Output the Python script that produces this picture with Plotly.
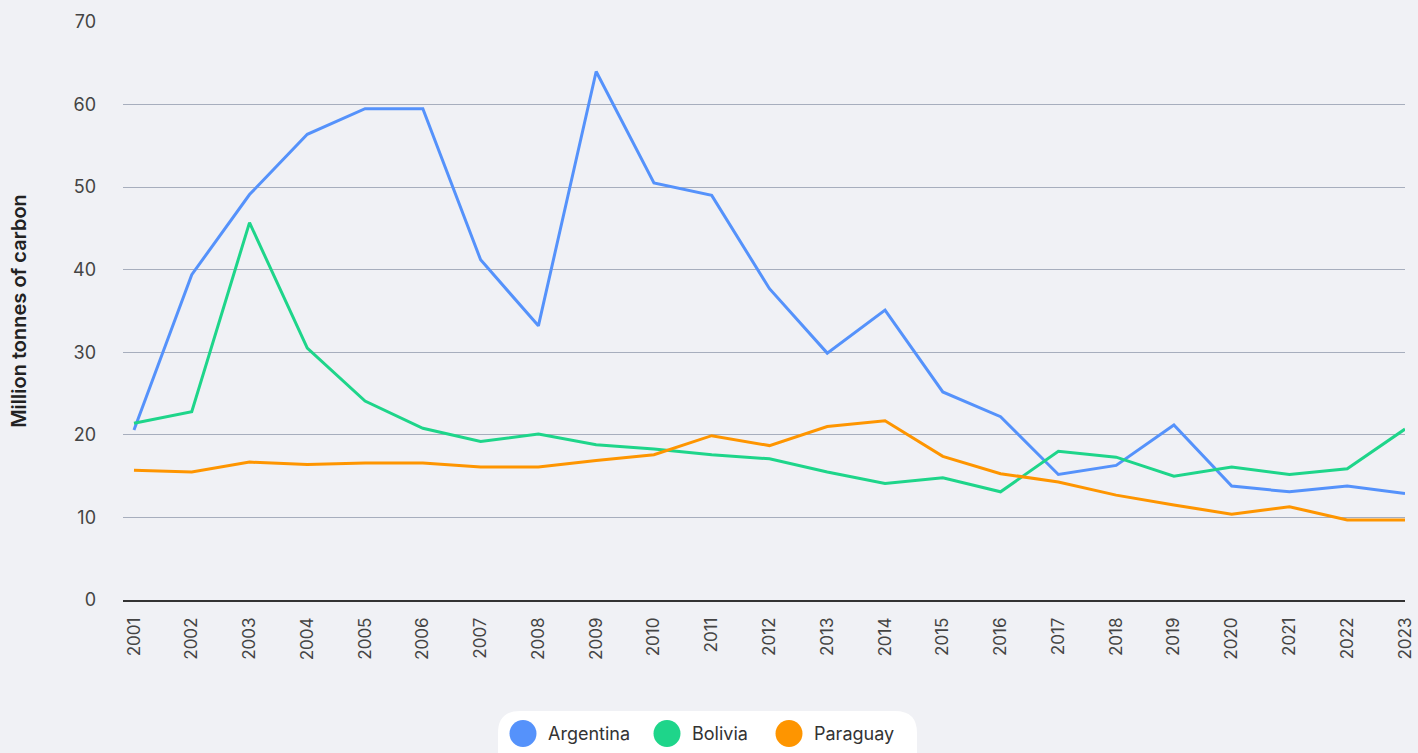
import plotly.graph_objects as go

years = list(range(2001, 2024))

argentina = [20.6, 39.4, 49.1, 56.4, 59.5, 59.5, 41.2, 33.2, 64.0, 50.5, 49.0, 37.7,
             29.9, 35.1, 25.2, 22.2, 15.2, 16.3, 21.2, 13.8, 13.1, 13.8, 12.9]
bolivia = [21.4, 22.8, 45.7, 30.5, 24.1, 20.8, 19.2, 20.1, 18.8, 18.3, 17.6, 17.1,
           15.5, 14.1, 14.8, 13.1, 18.0, 17.3, 15.0, 16.1, 15.2, 15.9, 20.7]
paraguay = [15.7, 15.5, 16.7, 16.4, 16.6, 16.6, 16.1, 16.1, 16.9, 17.6, 19.9, 18.7,
            21.0, 21.7, 17.4, 15.3, 14.3, 12.7, 11.5, 10.4, 11.3, 9.7, 9.7]

series_names = ["Argentina", "Bolivia", "Paraguay"]
series_values = [argentina, bolivia, paraguay]
series_colors = ["#5592fb", "#1ed58a", "#fe9500"]

y_ticks = [0, 10, 20, 30, 40, 50, 60, 70]

BG = "#f0f1f5"
FONT = "Inter, Liberation Sans, Arial, sans-serif"

W, H = 1418, 753
ML, MR, MT, MB = 123, 13, 22, 153
PL, PR, PT, PB = ML, W - MR, MT, H - MB


def px_x(px):
    return (px - PL) / (PR - PL)


def px_y(py):
    return (PB - py) / (PB - PT)


fig = go.Figure()

for name, values, color in zip(series_names, series_values, series_colors):
    fig.add_trace(go.Scatter(
        x=years, y=values, mode="lines", name=name,
        line=dict(color=color, width=3),
        showlegend=False,
    ))

# legend: white pill with round colour dots and names
x0, x1, y0, y1 = 498, 917, 711, 775
r = 22
path = (
    f"M {px_x(x0 + r)} {px_y(y0)} "
    f"L {px_x(x1 - r)} {px_y(y0)} "
    f"Q {px_x(x1)} {px_y(y0)} {px_x(x1)} {px_y(y0 + r)} "
    f"L {px_x(x1)} {px_y(y1)} "
    f"L {px_x(x0)} {px_y(y1)} "
    f"L {px_x(x0)} {px_y(y0 + r)} "
    f"Q {px_x(x0)} {px_y(y0)} {px_x(x0 + r)} {px_y(y0)} Z"
)
fig.add_shape(type="path", path=path, xref="paper", yref="paper",
              fillcolor="white", line=dict(width=0), layer="below")

dot_x = [523, 667, 789]
legend_y = 733.5
for name, color, cx in zip(series_names, series_colors, dot_x):
    fig.add_shape(
        type="circle", xref="paper", yref="paper",
        xsizemode="pixel", ysizemode="pixel",
        xanchor=px_x(cx), yanchor=px_y(legend_y),
        x0=-13.5, x1=13.5, y0=-13.5, y1=13.5,
        fillcolor=color, line=dict(width=0), layer="above",
    )
    fig.add_annotation(
        x=px_x(cx + 23), y=px_y(legend_y), xref="paper", yref="paper",
        text=name, showarrow=False, xanchor="left", yanchor="middle",
        font=dict(family=FONT, size=18, color="#333333"),
    )

fig.update_layout(
    width=W, height=H,
    margin=dict(l=ML, r=MR, t=MT, b=MB, autoexpand=False),
    paper_bgcolor=BG, plot_bgcolor=BG,
    font=dict(family=FONT, color="#444444", size=17),
    showlegend=False,
    xaxis=dict(
        range=[2000.81, 2023], tickmode="array", tickvals=years,
        ticktext=[str(y) for y in years], tickangle=-90,
        showgrid=False, zeroline=False, automargin=False,
        showline=True, linecolor="#333333", linewidth=1.5,
        ticks="", ticklabelstandoff=9,
        tickfont=dict(family=FONT, size=17, color="#444444"),
    ),
    yaxis=dict(
        range=[0, 70], tickmode="array", tickvals=y_ticks,
        showgrid=True, gridcolor="#a7aebd", gridwidth=1,
        zeroline=False, showline=False, ticks="", automargin=False,
        ticklabelstandoff=26,
        tickfont=dict(family=FONT, size=18, color="#444444"),
        title=dict(text="Million tonnes of carbon", standoff=41,
                   font=dict(family=FONT, size=20, weight=600, color="#222222")),
    ),
)

fig.write_html("out.html")
